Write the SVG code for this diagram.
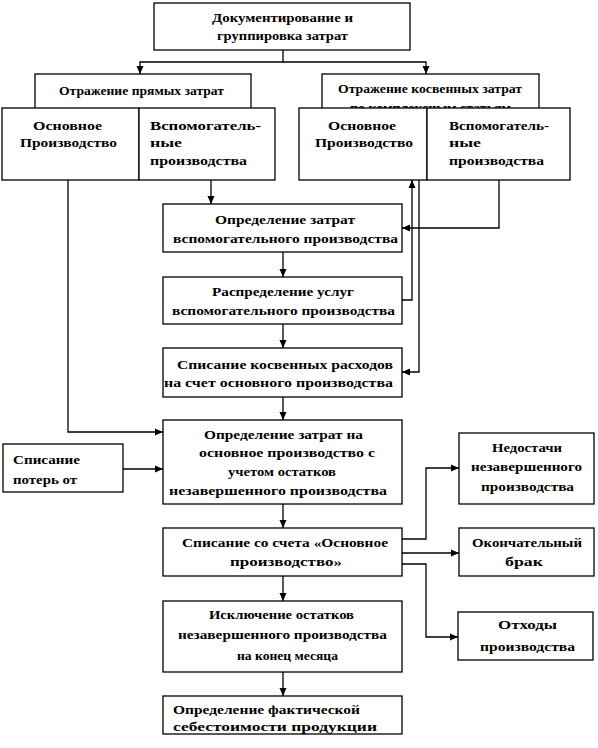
<svg xmlns="http://www.w3.org/2000/svg" width="598" height="748" viewBox="0 0 598 748">
<style>
rect{fill:#fff;stroke:#000;stroke-width:1.3}
text{font-family:'Liberation Serif','Times New Roman',serif;font-weight:bold;font-size:13.5px;fill:#000}
.ln{fill:none;stroke:#000;stroke-width:1.3}
</style>
<defs>
<marker id="ar" viewBox="0 0 8 8" refX="8" refY="4" markerWidth="8" markerHeight="8" markerUnits="userSpaceOnUse" orient="auto">
<path d="M0,0.5 L8,4 L0,7.5 Z" fill="#000"/>
</marker>
</defs>
<g id="connectors">
<polyline class="ln" points="283,50 283,62 140,62 140,74" marker-end="url(#ar)"/>
<polyline class="ln" points="283,62 426,62 426,74" marker-end="url(#ar)"/>
<polyline class="ln" points="68,180 68,432 163,432" marker-end="url(#ar)"/>
<polyline class="ln" points="211,180 211,204" marker-end="url(#ar)"/>
<polyline class="ln" points="499,180 499,228 402,228" marker-end="url(#ar)"/>
<polyline class="ln" points="402,300 412,300 412,180" marker-end="url(#ar)"/>
<polyline class="ln" points="419,180 419,372 402,372" marker-end="url(#ar)"/>
<polyline class="ln" points="283,252 283,277" marker-end="url(#ar)"/>
<polyline class="ln" points="283,324 283,348" marker-end="url(#ar)"/>
<polyline class="ln" points="283,397 283,420" marker-end="url(#ar)"/>
<polyline class="ln" points="123,469 163,469" marker-end="url(#ar)"/>
<polyline class="ln" points="283,504 283,528" marker-end="url(#ar)"/>
<polyline class="ln" points="283,576 283,601" marker-end="url(#ar)"/>
<polyline class="ln" points="283,672 283,696" marker-end="url(#ar)"/>
<polyline class="ln" points="402,539 426,539 426,468 459,468" marker-end="url(#ar)"/>
<polyline class="ln" points="402,553 459,553" marker-end="url(#ar)"/>
<polyline class="ln" points="402,564 426,564 426,637 458,637" marker-end="url(#ar)"/>
</g>
<g id="doc">
<rect x="154" y="3" width="256" height="47"/>
<text x="212" y="22" textLength="141" lengthAdjust="spacingAndGlyphs">Документирование и</text>
<text x="217" y="40" textLength="131" lengthAdjust="spacingAndGlyphs">группировка затрат</text>
</g>
<g id="direct">
<rect x="35" y="74" width="216" height="40"/>
<text x="59" y="95" textLength="165" lengthAdjust="spacingAndGlyphs">Отражение прямых затрат</text>
</g>
<g id="indirect">
<rect x="322" y="74" width="217" height="40"/>
<text x="338" y="93" textLength="184" lengthAdjust="spacingAndGlyphs">Отражение косвенных затрат</text>
<text x="350" y="112" textLength="161" lengthAdjust="spacingAndGlyphs">по комплексным статьям</text>
</g>
<g id="direct-main">
<rect x="2" y="108" width="137" height="72"/>
<text x="33" y="130" textLength="69" lengthAdjust="spacingAndGlyphs">Основное</text>
<text x="20" y="147" textLength="97" lengthAdjust="spacingAndGlyphs">Производство</text>
</g>
<g id="direct-aux">
<rect x="139" y="108" width="136" height="72"/>
<text x="150" y="130" textLength="111" lengthAdjust="spacingAndGlyphs">Вспомогатель-</text>
<text x="150" y="147" textLength="32" lengthAdjust="spacingAndGlyphs">ные</text>
<text x="150" y="165" textLength="97" lengthAdjust="spacingAndGlyphs">производства</text>
</g>
<g id="indirect-main">
<rect x="299" y="108" width="128" height="72"/>
<text x="328" y="130" textLength="68" lengthAdjust="spacingAndGlyphs">Основное</text>
<text x="315" y="147" textLength="98" lengthAdjust="spacingAndGlyphs">Производство</text>
</g>
<g id="indirect-aux">
<rect x="427" y="108" width="143" height="72"/>
<text x="449" y="130" textLength="100" lengthAdjust="spacingAndGlyphs">Вспомогатель-</text>
<text x="449" y="147" textLength="32" lengthAdjust="spacingAndGlyphs">ные</text>
<text x="449" y="165" textLength="95" lengthAdjust="spacingAndGlyphs">производства</text>
</g>
<g id="aux-costs">
<rect x="163" y="204" width="239" height="48"/>
<text x="215" y="224" textLength="140" lengthAdjust="spacingAndGlyphs">Определение затрат</text>
<text x="173" y="243" textLength="225" lengthAdjust="spacingAndGlyphs">вспомогательного производства</text>
</g>
<g id="aux-distrib">
<rect x="163" y="277" width="239" height="47"/>
<text x="212" y="296" textLength="142" lengthAdjust="spacingAndGlyphs">Распределение услуг</text>
<text x="172" y="315" textLength="223" lengthAdjust="spacingAndGlyphs">вспомогательного производства</text>
</g>
<g id="indirect-writeoff">
<rect x="163" y="348" width="239" height="49"/>
<text x="177" y="369" textLength="216" lengthAdjust="spacingAndGlyphs">Списание косвенных расходов</text>
<text x="164" y="387" textLength="229" lengthAdjust="spacingAndGlyphs">на счет основного производства</text>
</g>
<g id="main-costs">
<rect x="163" y="420" width="239" height="84"/>
<text x="204" y="439" textLength="159" lengthAdjust="spacingAndGlyphs">Определение затрат на</text>
<text x="199" y="457" textLength="176" lengthAdjust="spacingAndGlyphs">основное производство с</text>
<text x="228" y="476" textLength="108" lengthAdjust="spacingAndGlyphs">учетом остатков</text>
<text x="169" y="495" textLength="218" lengthAdjust="spacingAndGlyphs">незавершенного производства</text>
</g>
<g id="losses">
<rect x="3" y="444" width="120" height="48"/>
<text x="13" y="464" textLength="67" lengthAdjust="spacingAndGlyphs">Списание</text>
<text x="13" y="484" textLength="64" lengthAdjust="spacingAndGlyphs">потерь от</text>
</g>
<g id="main-writeoff">
<rect x="163" y="528" width="239" height="48"/>
<text x="182" y="547" textLength="206" lengthAdjust="spacingAndGlyphs">Списание со счета «Основное</text>
<text x="230" y="566" textLength="112" lengthAdjust="spacingAndGlyphs">производство»</text>
</g>
<g id="wip-exclusion">
<rect x="163" y="601" width="239" height="71"/>
<text x="209" y="619" textLength="145" lengthAdjust="spacingAndGlyphs">Исключение остатков</text>
<text x="178" y="639" textLength="209" lengthAdjust="spacingAndGlyphs">незавершенного производства</text>
<text x="237" y="660" textLength="101" lengthAdjust="spacingAndGlyphs">на конец месяца</text>
</g>
<g id="actual-cost">
<rect x="163" y="696" width="239" height="38"/>
<text x="173" y="714" textLength="187" lengthAdjust="spacingAndGlyphs">Определение фактической</text>
<text x="173" y="731" textLength="204" lengthAdjust="spacingAndGlyphs">себестоимости продукции</text>
</g>
<g id="shortage">
<rect x="459" y="433" width="135" height="71"/>
<text x="492" y="452" textLength="70" lengthAdjust="spacingAndGlyphs">Недостачи</text>
<text x="471" y="471" textLength="111" lengthAdjust="spacingAndGlyphs">незавершенного</text>
<text x="481" y="491" textLength="93" lengthAdjust="spacingAndGlyphs">производства</text>
</g>
<g id="defect">
<rect x="459" y="528" width="135" height="48"/>
<text x="472" y="547" textLength="110" lengthAdjust="spacingAndGlyphs">Окончательный</text>
<text x="505" y="566" textLength="38" lengthAdjust="spacingAndGlyphs">брак</text>
</g>
<g id="waste">
<rect x="458" y="612" width="135" height="48"/>
<text x="498" y="629" textLength="59" lengthAdjust="spacingAndGlyphs">Отходы</text>
<text x="480" y="651" textLength="95" lengthAdjust="spacingAndGlyphs">производства</text>
</g>
</svg>
